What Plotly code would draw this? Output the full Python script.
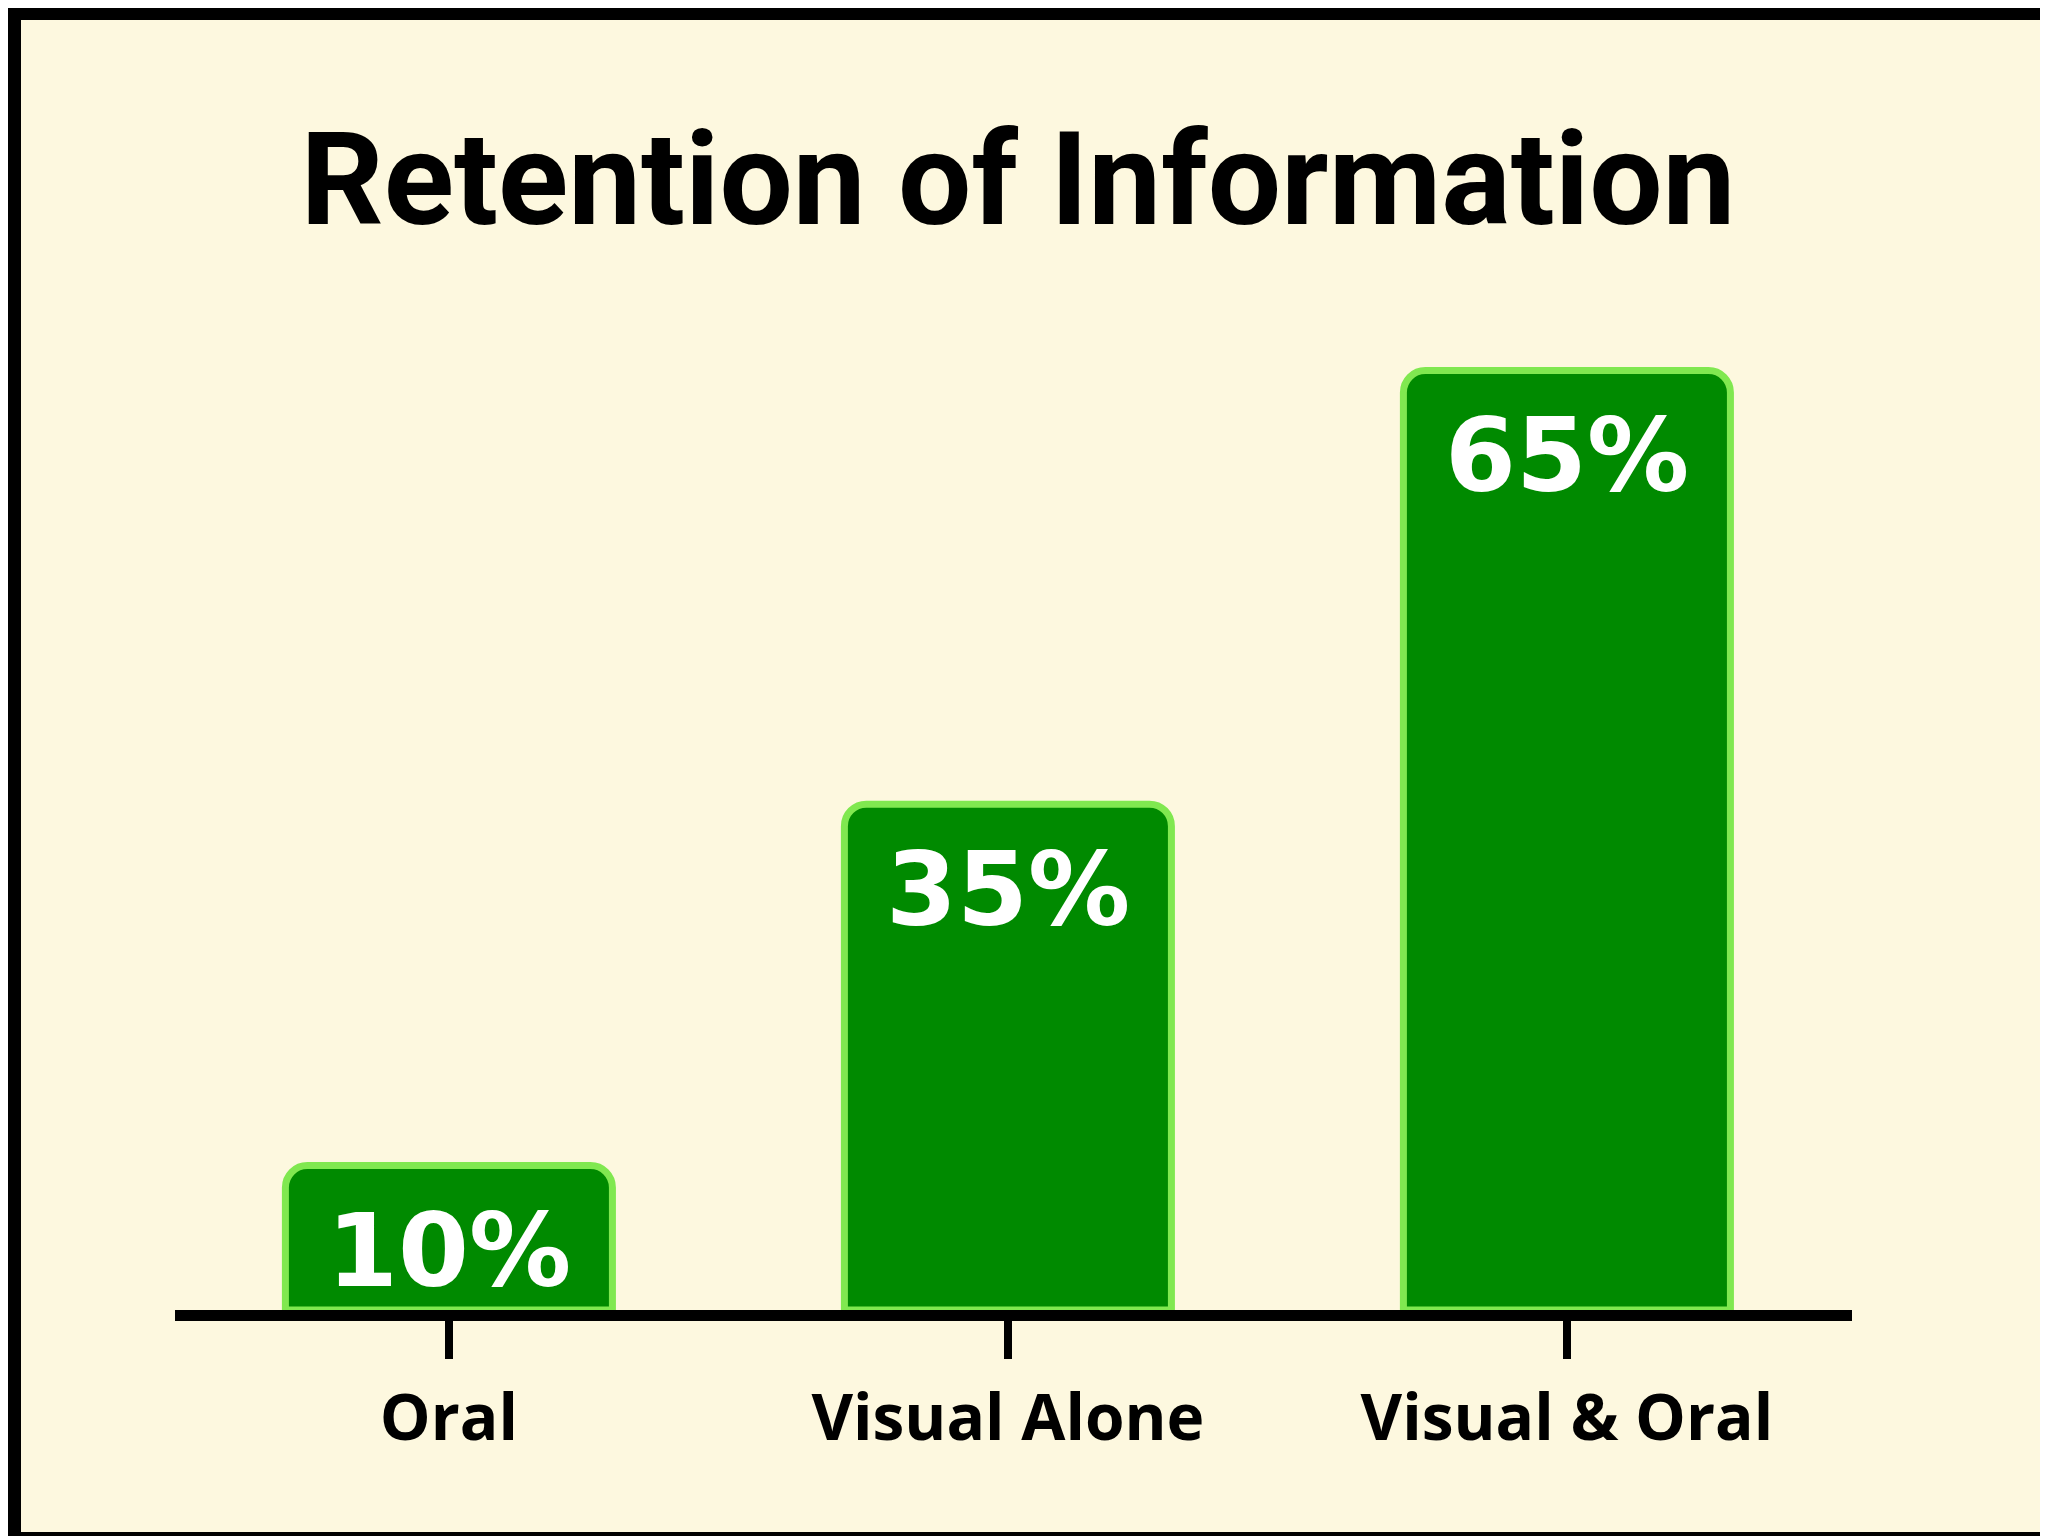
import plotly.graph_objects as go

categories = ["Oral", "Visual Alone", "Visual & Oral"]
values = [10, 35, 65]
value_labels = ["10%", "35%", "65%"]
title_text = "Retention of Information"

W, H = 2048, 1536
L, R, T, B = 167, 204, 218, 234
pw, ph = W - L - R, H - T - B

cream = "#fdf8df"

fig = go.Figure()
fig.add_trace(go.Bar(
    x=categories, y=values,
    width=0.585,
    marker=dict(color="#008a00", line=dict(color="#80e850", width=7), cornerradius=22),
    hoverinfo="skip",
))

for c, v, t in zip(categories, values, value_labels):
    fig.add_annotation(x=c, y=v, xref="x", yref="y", text=t, showarrow=False,
                       yanchor="middle", yshift=-85,
                       font=dict(family="DejaVu Sans", size=102, color="white", weight="bold"))

fig.add_shape(type="rect", xref="paper", yref="paper",
              x0=(13 - L) / pw, x1=(2033 - L) / pw,
              y0=(H - B - 1524) / ph, y1=(H - B - 12) / ph,
              fillcolor=cream, line=dict(width=0), layer="below")

fig.update_layout(
    width=W, height=H,
    margin=dict(l=L, r=R, t=T, b=B, pad=0),
    paper_bgcolor="black", plot_bgcolor="rgba(0,0,0,0)",
    showlegend=False,
    title=dict(text=title_text, x=1010 / W, xref="container", xanchor="center",
               y=1 - 170 / H, yref="container", yanchor="middle",
               font=dict(family="Roboto", size=130, color="black", weight="bold")),
    xaxis=dict(range=[-0.49, 2.51], showline=True, linewidth=11, linecolor="black",
               ticks="outside", ticklen=38, tickwidth=8, tickcolor="black",
               ticklabelstandoff=4,
               tickfont=dict(family="Open Sans", size=64, color="black", weight="bold"),
               showgrid=False, zeroline=False, fixedrange=True),
    yaxis=dict(range=[0, 75], showgrid=False, zeroline=False, showticklabels=False,
               showline=False, ticks="", fixedrange=True),
)

fig.write_html("out.html")
